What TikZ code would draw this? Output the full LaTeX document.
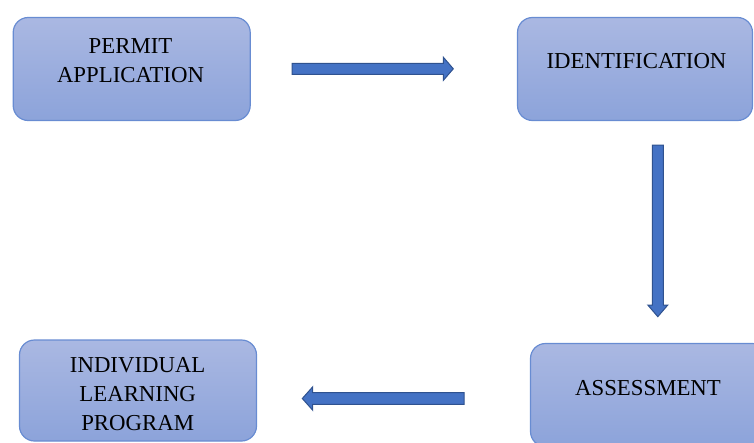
\documentclass[tikz,border=0pt]{standalone}
\usepackage{fontspec}
\setmainfont{Liberation Serif}
\definecolor{boxtop}{RGB}{170,184,226}
\definecolor{boxbot}{RGB}{140,163,218}
\definecolor{boxline}{RGB}{104,140,210}
\definecolor{arrfill}{RGB}{68,114,196}
\definecolor{arrline}{RGB}{47,82,143}
\begin{document}
\begin{tikzpicture}[x=1pt,y=-1pt,
 box/.style={rectangle, rounded corners=15pt, draw=boxline, line width=1.2pt, top color=boxtop, bottom color=boxbot, minimum width=237pt, minimum height=103pt, inner sep=0pt},
 lbl/.style={font=\fontsize{22.8}{29}\selectfont, align=center, inner sep=0pt, text=black},
 barrow/.style={draw=arrline, fill=arrfill, line width=1pt, line join=miter}]
\useasboundingbox (0,0) rectangle (754,442);
\node[box] (b1) at (131.7,69) {};
\node[box, minimum width=235pt] (b2) at (635,69) {};
\node[box] (b3) at (649,395) {};
\node[box, minimum height=101pt] (b4) at (138,390.5) {};
\node[lbl] (t1) at (130.5,60.7) {PERMIT\\APPLICATION};
\node[lbl] (t2) at (636.5,60.8) {IDENTIFICATION};
\node[lbl] (t3) at (648,388.5) {ASSESSMENT};
\node[lbl] (t4) at (137.7,394.5) {INDIVIDUAL\\LEARNING\\PROGRAM};
% block arrows
\draw[barrow] (292,63.3) -- (443.3,63.3) -- (443.3,57.2) -- (453.3,68.8)
  -- (443.3,80.4) -- (443.3,74.3) -- (292,74.3) -- cycle;
\draw[barrow] (652.3,145) -- (663.3,145) -- (663.3,305) -- (667.8,305)
  -- (657.8,316.7) -- (647.8,305) -- (652.3,305) -- cycle;
\draw[barrow] (464,392.7) -- (312.7,392.7) -- (312.7,386.8) -- (302.3,398.5)
  -- (312.7,410.2) -- (312.7,404.3) -- (464,404.3) -- cycle;
\end{tikzpicture}
\end{document}
